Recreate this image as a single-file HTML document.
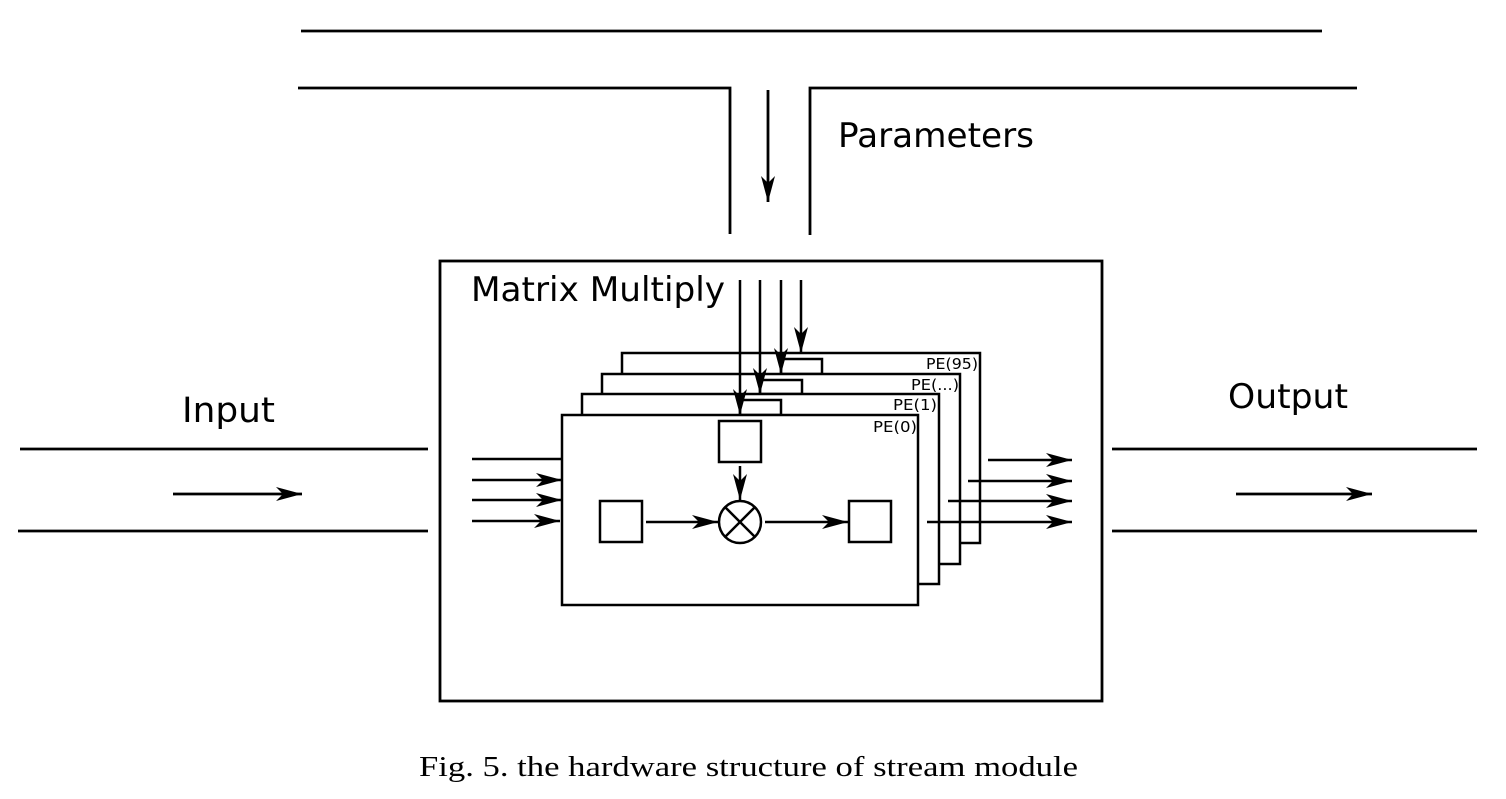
<!DOCTYPE html>
<html><head><meta charset="utf-8"><style>html,body{margin:0;padding:0;background:#fff}svg{display:block}</style></head>
<body>
<svg width="1506" height="799" viewBox="0 0 1506 799" xmlns="http://www.w3.org/2000/svg">
<defs>
<marker id="b" viewBox="0 0 26 14" refX="26" refY="7" markerWidth="26" markerHeight="14" markerUnits="userSpaceOnUse" orient="auto">
<path d="M0,0 L26,7 L0,14 L7,7 Z" fill="#000"/></marker>
</defs>
<g stroke="#000" stroke-width="2.8" fill="none">
<line x1="301" y1="31" x2="1322" y2="31"/>
<polyline points="298,88 730,88 730,234"/>
<polyline points="1357,88 810,88 810,235"/>
<line x1="768" y1="90" x2="768" y2="202" marker-end="url(#b)"/>
<line x1="20" y1="449" x2="428" y2="449"/>
<line x1="18" y1="531" x2="428" y2="531"/>
<line x1="173" y1="494" x2="302" y2="494" marker-end="url(#b)"/>
<line x1="1112" y1="449" x2="1477" y2="449"/>
<line x1="1112" y1="531" x2="1477" y2="531"/>
<line x1="1236" y1="494" x2="1372" y2="494" marker-end="url(#b)"/>
<rect x="440" y="261" width="662" height="440"/>
</g>
<g stroke="#000" stroke-width="2.5" fill="#fff">
<line x1="472" y1="459" x2="562" y2="459"/>
<line x1="472" y1="480" x2="562" y2="480" marker-end="url(#b)"/>
<line x1="472" y1="500" x2="562" y2="500" marker-end="url(#b)"/>
<line x1="472" y1="521" x2="560" y2="521" marker-end="url(#b)"/>
<rect x="622" y="353" width="358" height="190"/>
<rect x="781" y="359" width="41" height="15"/>
<rect x="602" y="374" width="358" height="190"/>
<rect x="760" y="380" width="42" height="14"/>
<rect x="582" y="394" width="357" height="190"/>
<rect x="740" y="400" width="41" height="15"/>
<rect x="562" y="415" width="356" height="190"/>
<rect x="719" y="421" width="42" height="41"/>
<rect x="600" y="501" width="42" height="41"/>
<rect x="849" y="501" width="42" height="41"/>
<circle cx="740" cy="522" r="21"/>
<line x1="725" y1="507" x2="755" y2="537"/>
<line x1="755" y1="507" x2="725" y2="537"/>
<line x1="740" y1="466" x2="740" y2="500" marker-end="url(#b)"/>
<line x1="646" y1="522" x2="718" y2="522" marker-end="url(#b)"/>
<line x1="765" y1="522" x2="848" y2="522" marker-end="url(#b)"/>
<line x1="740" y1="280" x2="740" y2="415" marker-end="url(#b)"/>
<line x1="760" y1="280" x2="760" y2="394" marker-end="url(#b)"/>
<line x1="781" y1="280" x2="781" y2="374" marker-end="url(#b)"/>
<line x1="801" y1="280" x2="801" y2="353" marker-end="url(#b)"/>
<line x1="988" y1="460" x2="1072" y2="460" marker-end="url(#b)"/>
<line x1="968" y1="481" x2="1072" y2="481" marker-end="url(#b)"/>
<line x1="948" y1="501" x2="1072" y2="501" marker-end="url(#b)"/>
<line x1="927" y1="522" x2="1072" y2="522" marker-end="url(#b)"/>
</g>
<g font-family="DejaVu Sans, sans-serif" fill="#000">
<text x="838" y="147" font-size="34" textLength="196" lengthAdjust="spacingAndGlyphs">Parameters</text>
<text x="471" y="301" font-size="34" textLength="254" lengthAdjust="spacingAndGlyphs">Matrix Multiply</text>
<text x="182" y="422" font-size="35" textLength="93" lengthAdjust="spacingAndGlyphs">Input</text>
<text x="1228" y="408" font-size="34" textLength="120" lengthAdjust="spacingAndGlyphs">Output</text>
<text x="926" y="369" font-size="15" textLength="52" lengthAdjust="spacingAndGlyphs">PE(95)</text>
<text x="911" y="390" font-size="15" textLength="48" lengthAdjust="spacingAndGlyphs">PE(...)</text>
<text x="893" y="410" font-size="15" textLength="44" lengthAdjust="spacingAndGlyphs">PE(1)</text>
<text x="873" y="432" font-size="15" textLength="44" lengthAdjust="spacingAndGlyphs">PE(0)</text>
</g>
<text x="419" y="776" font-family="Liberation Serif, serif" font-size="29" textLength="659" lengthAdjust="spacingAndGlyphs">Fig. 5.  the hardware structure of stream module</text>
</svg>
</body></html>
